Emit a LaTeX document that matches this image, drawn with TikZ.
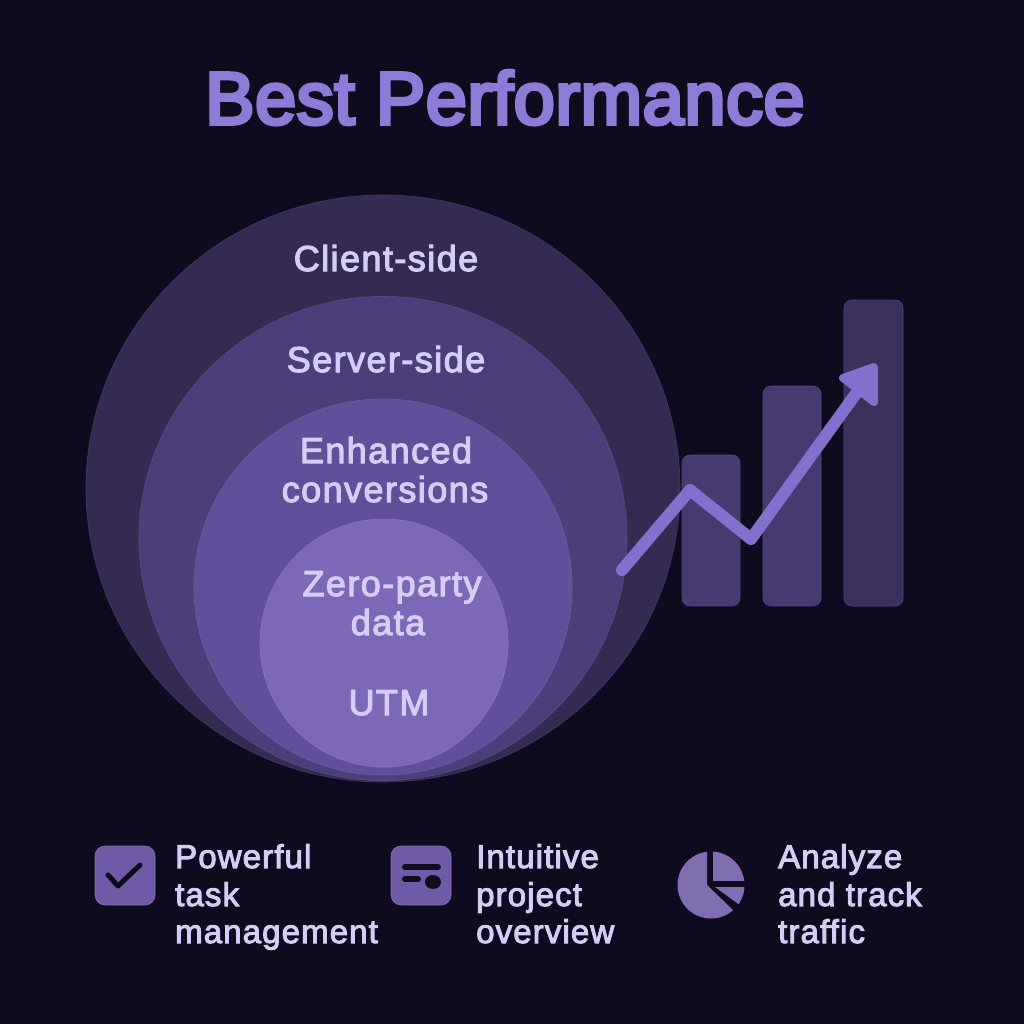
\documentclass[tikz,border=0pt]{standalone}
\usepackage{fontspec}
\setmainfont{Liberation Sans}
\newfontfamily\titlefont[FakeBold=5,LetterSpace=0.7]{Liberation Sans}
\newfontfamily\labelfont[FakeBold=3,LetterSpace=4]{Liberation Sans}
\newfontfamily\itemfont[FakeBold=3,LetterSpace=3.4]{Liberation Sans}
\definecolor{bgc}{HTML}{0F0B1E}
\definecolor{cA}{HTML}{352B52}
\definecolor{cB}{HTML}{4C3E7B}
\definecolor{cC}{HTML}{614F99}
\definecolor{cD}{HTML}{7D68B8}
\definecolor{titlec}{HTML}{8E7BD8}
\definecolor{labelc}{HTML}{D5CDF5}
\definecolor{iconc}{HTML}{6F5AA8}
\definecolor{barc}{HTML}{463A70}
\definecolor{barl}{HTML}{54457F}
\definecolor{arrowc}{HTML}{8370CC}
\tikzset{
  disc/.style={draw=#1!93!white,line width=0.6pt,fill=#1},
  circlabel/.style={text=labelc,font=\labelfont\fontsize{36}{38}\selectfont,anchor=base,inner sep=0pt},
  itemlabel/.style={text=labelc,font=\itemfont\fontsize{33}{38}\selectfont,anchor=base west,inner sep=0pt},
  barbox/.style={rounded corners=8pt,fill=#1,draw=barl,line width=0.6pt},
  iconbox/.style={rounded corners=10pt,fill=iconc,draw=iconc!85!white,line width=0.6pt},
  iconline/.style={draw=bgc,line cap=round,line join=round},
  trend/.style={draw=arrowc,line width=12pt,line cap=round,line join=round},
}
\begin{document}
\begin{tikzpicture}[x=1pt,y=-1pt]
\useasboundingbox (0,0) rectangle (1024,1024);
\fill[bgc] (0,0) rectangle (1024,1024);
\node[text=titlec,font=\titlefont\fontsize{74}{80}\selectfont,anchor=base,inner sep=0pt] (title) at (505,124) {Best Performance};
% discs
\path[disc=cA] (383,488.5) ellipse (297pt and 293.5pt);
\path[disc=cB] (383,538.5) ellipse (244pt and 242pt);
\path[disc=cC] (383,587) ellipse (189pt and 188pt);
\path[disc=cD] (384,643) circle (124pt);
\node[circlabel] (l1) at (386,271) {Client-side};
\node[circlabel] (l2) at (386,372) {Server-side};
\node[circlabel] (l3a) at (386,463) {Enhanced};
\node[circlabel] (l3b) at (385,502) {conversions};
\node[circlabel] (l4a) at (392,596) {Zero-party};
\node[circlabel] (l4b) at (388,635) {data};
\node[circlabel] (l5) at (389,715) {UTM};
% bars
\path[barbox=barc] (682,455) rectangle (740,606);
\path[barbox=barc] (763,386) rectangle (821,606);
\path[barbox=cA!70!barc] (844,300) rectangle (903,606);
% trend arrow
\coordinate (t0) at (622,570);
\coordinate (t1) at (690,490);
\coordinate (t2) at (751,539);
\coordinate (t3) at (860,388);
\draw[trend] (t0) -- (t1) -- (t2) -- (t3);
\fill[arrowc,draw=arrowc,line width=8pt,line join=round] (874,367) -- (843,378) -- (874,402) -- cycle;
% item 1
\path[iconbox] (95,846) rectangle (155,905);
\draw[iconline,line width=5pt] (108,875) -- (118,886) -- (140,865);
\node[itemlabel] (i1a) at (175,868) {Powerful};
\node[itemlabel] (i1b) at (175,906) {task};
\node[itemlabel] (i1c) at (175,943) {management};
% item 2
\path[iconbox] (391,846) rectangle (451,905);
\draw[iconline,line width=6pt] (405,867) -- (438,867);
\draw[iconline,line width=6pt] (405,879) -- (418,879);
\fill[bgc] (433,882) ellipse (8pt and 7pt);
\node[itemlabel] (i2a) at (476,868) {Intuitive};
\node[itemlabel] (i2b) at (476,906) {project};
\node[itemlabel] (i2c) at (476,943) {overview};
% item 3
\begin{scope}
\clip (711,885) circle (33.5pt);
\fill[iconc!88!white] (707,845) -- (707,885) -- (735,912) -- (735,930) -- (670,930) -- (670,845) -- cycle;
\fill[iconc!88!white] (713,845) -- (713,881) -- (750,881) -- (750,845) -- cycle;
\fill[iconc!88!white] (715,887) -- (750,887) -- (750,912.5) -- cycle;
\end{scope}
\node[itemlabel] (i3a) at (778,868) {Analyze};
\node[itemlabel] (i3b) at (778,906) {and track};
\node[itemlabel] (i3c) at (778,943) {traffic};
\end{tikzpicture}
\end{document}
